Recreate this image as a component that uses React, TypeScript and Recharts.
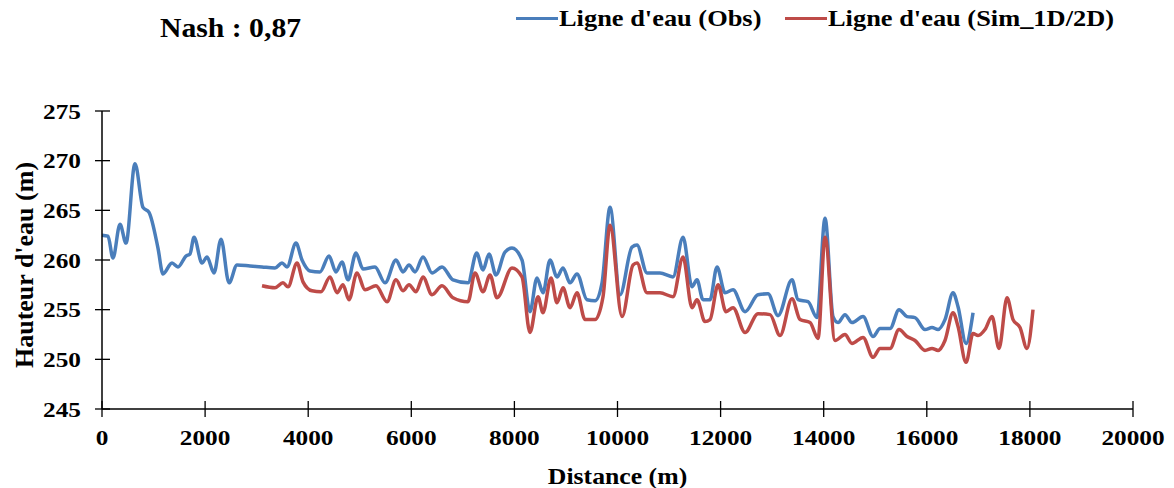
import { LineChart, Line, XAxis, YAxis, Label } from "recharts";

// distance (m) / water level (m)
const obsDistance = [
  0, 116, 213, 349, 466, 640, 795, 912, 1086, 1183, 1358, 1474, 1630, 1707, 1785, 1940, 2037, 2173, 2309, 2464,
  2619, 2871, 3104, 3356, 3492, 3589, 3763, 3880, 4035, 4229, 4404, 4539, 4656, 4772, 4927, 5063, 5296, 5490, 5703,
  5839, 5956, 6072, 6227, 6402, 6596, 6809, 7100, 7268, 7391, 7507, 7643, 7817, 7953, 8147, 8302, 8438, 8555, 8691,
  8826, 8943, 9079, 9214, 9408, 9564, 9700, 9855, 10049, 10281, 10378, 10572, 10824, 11077, 11271, 11445, 11542,
  11659, 11795, 11930, 12086, 12241, 12474, 12726, 12920, 13114, 13385, 13502, 13696, 13870, 14026, 14181, 14278,
  14413, 14549, 14763, 14957, 15093, 15287, 15461, 15616, 15771, 15965, 16101, 16218, 16353, 16509, 16606, 16761,
  16897,
];
const obsLevel = [
  262.5, 262.4, 260.2, 263.6, 261.7, 269.7, 265.3, 264.8, 261.2, 258.6, 259.7, 259.3, 260.4, 260.6, 262.3, 259.7,
  260.3, 258.7, 262.1, 257.7, 259.5, 259.4, 259.3, 259.2, 259.7, 259.3, 261.7, 260.0, 258.9, 258.8, 260.4, 258.8,
  259.8, 258.0, 260.7, 259.1, 259.3, 257.7, 260.0, 258.8, 259.5, 258.8, 260.3, 258.7, 259.3, 258.0, 257.7, 260.7,
  259.0, 260.6, 258.5, 260.8, 261.2, 260.0, 254.8, 258.2, 256.7, 260.0, 258.3, 259.2, 257.7, 258.6, 256.0, 255.9,
  257.7, 265.3, 256.5, 261.3, 261.5, 258.7, 258.7, 258.3, 262.3, 257.3, 258.0, 256.0, 256.0, 259.3, 256.7, 257.0,
  254.8, 256.5, 256.6, 254.4, 258.0, 256.0, 255.8, 254.2, 264.2, 254.3, 253.7, 254.5, 253.7, 254.3, 252.3, 253.1,
  253.1, 255.0, 254.3, 254.2, 253.0, 253.2, 253.0, 254.0, 256.7, 255.3, 251.6, 254.7,
];

const simDistance = [
  3104, 3356, 3511, 3608, 3783, 3899, 4074, 4248, 4423, 4559, 4675, 4791, 4947, 5102, 5315, 5529, 5703, 5839, 5956,
  6091, 6227, 6402, 6596, 6809, 7100, 7236, 7391, 7527, 7663, 7953, 8147, 8302, 8458, 8555, 8710, 8826, 8943, 9079,
  9214, 9370, 9564, 9719, 9855, 10088, 10301, 10378, 10572, 10824, 11077, 11271, 11445, 11542, 11697, 11795, 11950,
  12105, 12241, 12474, 12726, 12959, 13153, 13385, 13541, 13735, 13890, 14026, 14220, 14413, 14549, 14763, 14957,
  15093, 15287, 15461, 15616, 15771, 15965, 16101, 16218, 16353, 16509, 16606, 16761, 16897, 16994, 17129, 17265,
  17401, 17556, 17673, 17808, 17944, 18060,
];
const simLevel = [
  257.4, 257.2, 257.7, 257.3, 259.7, 257.8, 256.9, 256.8, 258.3, 256.7, 257.5, 256.0, 258.7, 257.0, 257.4, 255.8,
  258.0, 256.9, 257.5, 256.8, 258.3, 256.5, 257.4, 256.2, 255.8, 258.7, 256.8, 258.5, 256.2, 259.2, 258.3, 252.7,
  256.3, 254.7, 258.2, 255.7, 257.2, 255.2, 256.7, 254.0, 254.0, 256.3, 263.5, 254.3, 259.5, 259.7, 256.7, 256.7,
  256.3, 260.3, 255.2, 256.0, 253.8, 254.0, 257.5, 254.8, 255.2, 252.7, 254.6, 254.5, 252.4, 256.1, 254.0, 253.7,
  252.1, 262.3, 251.9, 252.5, 251.6, 252.2, 250.2, 251.1, 251.1, 253.0, 252.3, 251.9, 250.9, 251.1, 250.9, 251.9,
  254.7, 253.3, 249.7, 252.6, 252.4, 253.0, 254.3, 251.1, 256.2, 254.0, 253.2, 251.1, 255.0,
];

const xTicks = [0, 2000, 4000, 6000, 8000, 10000, 12000, 14000, 16000, 18000, 20000];
const yTicks = [245, 250, 255, 260, 265, 270, 275];

const obsData = obsDistance.map((d, i) => ({ distance: d, level: obsLevel[i] }));
const simData = simDistance.map((d, i) => ({ distance: d, level: simLevel[i] }));

const FONT = '"Liberation Serif", "Times New Roman", serif';

const YTick = (props: any) => {
  const { x, y, payload } = props;
  return (
    <g>
      <line x1={x - 7} x2={x + 8} y1={y} y2={y} stroke="#000" strokeWidth={1.3} />
      <text
        transform={`translate(${x - 21},${y + 7.5}) scale(1.15,1)`}
        textAnchor="end"
        fontFamily={FONT}
        fontWeight="bold"
        fontSize={22}
        fill="#000"
      >
        {payload.value}
      </text>
    </g>
  );
};

const XTick = (props: any) => {
  const { x, y, payload } = props;
  return (
    <g>
      <line x1={x} x2={x} y1={y - 8} y2={y + 8} stroke="#000" strokeWidth={1.3} />
      <text
        transform={`translate(${x},${y + 36}) scale(1.15,1)`}
        textAnchor="middle"
        fontFamily={FONT}
        fontWeight="bold"
        fontSize={22}
        fill="#000"
      >
        {payload.value}
      </text>
    </g>
  );
};

const XTitle = (props: any) => {
  const { viewBox } = props;
  const cx = viewBox.x + viewBox.width / 2;
  return (
    <text
      transform={`translate(${cx},${viewBox.y + 75}) scale(1.12,1)`}
      textAnchor="middle"
      fontFamily={FONT}
      fontWeight="bold"
      fontSize={23}
      fill="#000"
    >
      Distance (m)
    </text>
  );
};

const YTitle = () => (
  <text
    transform="translate(33,265) rotate(-90)"
    textAnchor="middle"
    fontFamily={FONT}
    fontWeight="bold"
    fontSize={26}
    fill="#000"
  >
    Hauteur d'eau (m)
  </text>
);

const textStyle = {
  position: "absolute" as const,
  fontFamily: FONT,
  fontWeight: "bold" as const,
  color: "#000",
  whiteSpace: "nowrap" as const,
  transform: "scaleX(1.1)",
  transformOrigin: "left center",
};

const App = () => {
  return (
    <div style={{ position: "absolute", left: 0, top: 0, width: 1174, height: 488, background: "#fff" }}>
      <div style={{ ...textStyle, left: 160, top: 15, fontSize: 27, lineHeight: "27px" }}>Nash : 0,87</div>

      <div style={{ position: "absolute", left: 516, top: 17, width: 42, height: 2.5, background: "#4A7EBB" }} />
      <div style={{ ...textStyle, left: 559, top: 6, fontSize: 24, lineHeight: "24px" }}>Ligne d'eau (Obs)</div>
      <div style={{ position: "absolute", left: 785, top: 16.5, width: 42, height: 3.5, background: "#BE4B48" }} />
      <div style={{ ...textStyle, left: 828, top: 6, fontSize: 24, lineHeight: "24px" }}>Ligne d'eau (Sim_1D/2D)</div>

      <LineChart width={1174} height={488} margin={{ top: 111, right: 41, left: 0, bottom: 29 }}>
        <XAxis
          dataKey="distance"
          type="number"
          domain={[0, 20000]}
          ticks={xTicks}
          height={50}
          axisLine={{ stroke: "#000", strokeWidth: 1.5 }}
          tickLine={false}
          tickSize={0}
          tickMargin={0}
          tick={<XTick />}
          interval={0}
          allowDuplicatedCategory={false}
        >
          <Label content={<XTitle />} />
        </XAxis>
        <YAxis
          type="number"
          domain={[245, 275]}
          ticks={yTicks}
          width={102}
          axisLine={{ stroke: "#000", strokeWidth: 1.5 }}
          tickLine={false}
          tickSize={0}
          tickMargin={0}
          tick={<YTick />}
          interval={0}
        >
          <Label content={<YTitle />} />
        </YAxis>
        <Line
          data={obsData}
          dataKey="level"
          type="monotone"
          stroke="#4A7EBB"
          strokeWidth={3.5}
          dot={false}
          isAnimationActive={false}
        />
        <Line
          data={simData}
          dataKey="level"
          type="monotone"
          stroke="#BE4B48"
          strokeWidth={3.5}
          dot={false}
          isAnimationActive={false}
        />
      </LineChart>
    </div>
  );
};

export default App;
